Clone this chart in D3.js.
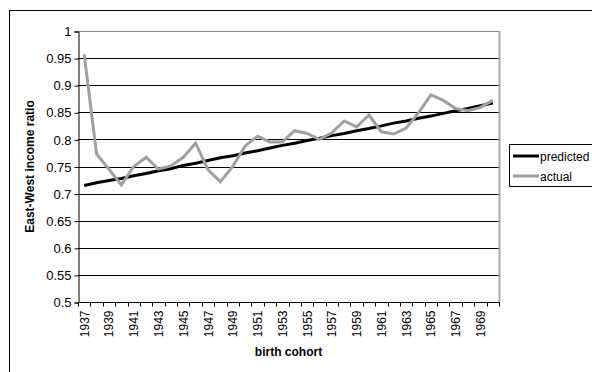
<!DOCTYPE html>
<html>
<head>
<meta charset="utf-8">
<script src="https://cdn.jsdelivr.net/npm/d3@7"></script>
<style>
  html, body { margin: 0; padding: 0; background: #fff; }
  svg { display: block; font-family: "Liberation Sans", Arial, sans-serif; }
</style>
</head>
<body>
<svg id="chart" width="592" height="372"></svg>
<script>
// Birth cohorts on the category axis
const years = d3.range(1937, 1971);
// Predicted East-West income ratio by cohort
const predicted = [0.715, 0.720, 0.724, 0.728, 0.733, 0.737, 0.742, 0.746, 0.752, 0.756,
                   0.761, 0.766, 0.770, 0.775, 0.779, 0.784, 0.789, 0.793, 0.798, 0.802,
                   0.807, 0.811, 0.816, 0.820, 0.825, 0.830, 0.834, 0.839, 0.843, 0.848,
                   0.853, 0.857, 0.862, 0.867];
// Actual East-West income ratio by cohort
const actual = [0.957, 0.773, 0.745, 0.716, 0.750, 0.767, 0.745, 0.751, 0.767, 0.793,
                0.744, 0.722, 0.750, 0.788, 0.806, 0.795, 0.795, 0.816, 0.811, 0.800,
                0.812, 0.834, 0.823, 0.845, 0.814, 0.810, 0.821, 0.849, 0.882, 0.872,
                0.857, 0.853, 0.859, 0.872];
const yTicks = [0.5, 0.55, 0.6, 0.65, 0.7, 0.75, 0.8, 0.85, 0.9, 0.95, 1];
const seriesNames = ["predicted", "actual"];
const seriesColors = ["#000000", "#a0a0a0"];

const svg = d3.select("#chart");
const plot = { left: 78, right: 499, top: 31, bottom: 302 };

// Outer chart frame
svg.append("rect")
  .attr("x", 9.5).attr("y", 10.5)
  .attr("width", 600).attr("height", 400)
  .attr("fill", "none").attr("stroke", "#000").attr("stroke-width", 1);

const x = d3.scaleBand().domain(years).range([plot.left, plot.right]).paddingInner(0).paddingOuter(0);
const y = d3.scaleLinear().domain([0.5, 1]).range([plot.bottom, plot.top]);
const cx = d => x(d) + x.bandwidth() / 2;

// Horizontal gridlines
svg.append("g")
  .selectAll("line")
  .data(yTicks.filter(t => t > 0.5))
  .join("line")
  .attr("x1", plot.left).attr("x2", plot.right)
  .attr("y1", d => Math.round(y(d)) + 0.5).attr("y2", d => Math.round(y(d)) + 0.5)
  .attr("stroke", d => d === 1 ? "#888" : "#000").attr("stroke-width", 1);

// Plot-area right border
svg.append("line")
  .attr("x1", plot.right + 0.5).attr("x2", plot.right + 0.5)
  .attr("y1", plot.top).attr("y2", plot.bottom)
  .attr("stroke", "#aaa").attr("stroke-width", 2);

// Y axis
const yAxis = d3.axisLeft(y).tickValues(yTicks).tickSize(4).tickPadding(3)
  .tickFormat(d => d3.format("")(+d.toFixed(2)));
const gy = svg.append("g").attr("transform", `translate(${plot.left + 0.5},0.5)`).call(yAxis);
gy.select(".domain").attr("stroke", "#000");
gy.selectAll(".tick line").attr("stroke", "#000");
gy.selectAll("text").attr("font-size", 13).attr("fill", "#000")
  .attr("font-family", "'Liberation Sans', Arial, sans-serif");

// X axis: ticks at category boundaries, labels on every other cohort
const gx = svg.append("g").attr("transform", `translate(0,${plot.bottom + 0.5})`);
gx.append("line").attr("x1", plot.left).attr("x2", plot.right + 1)
  .attr("stroke", "#000");
const bounds = years.map(d => x(d)).concat([plot.right]);
gx.selectAll("line.tk").data(bounds).join("line").attr("class", "tk")
  .attr("x1", d => Math.round(d) + 0.5).attr("x2", d => Math.round(d) + 0.5)
  .attr("y1", 0).attr("y2", 4).attr("stroke", "#000");
gx.selectAll("text").data(years.filter((d, i) => i % 2 === 0)).join("text")
  .attr("transform", d => `translate(${cx(d) + 4.5},${8}) rotate(-90)`)
  .attr("text-anchor", "end")
  .attr("font-size", 12).attr("fill", "#000")
  .text(d => d);

// Series lines (actual drawn last, on top)
const line = d3.line().x((d, i) => cx(years[i])).y(d => y(d));
[predicted, actual].forEach((vals, k) => {
  svg.append("path").datum(vals)
    .attr("fill", "none")
    .attr("stroke", seriesColors[k])
    .attr("stroke-width", 3)
    .attr("stroke-linejoin", "miter")
    .attr("d", line);
});

// Axis titles
svg.append("text")
  .attr("transform", `translate(34,${(plot.top + plot.bottom) / 2}) rotate(-90)`)
  .attr("text-anchor", "middle")
  .attr("font-size", 12).attr("font-weight", "bold")
  .text("East-West income ratio");
svg.append("text")
  .attr("x", (plot.left + plot.right) / 2).attr("y", 356)
  .attr("text-anchor", "middle")
  .attr("font-size", 12).attr("font-weight", "bold")
  .text("birth cohort");

// Legend
const lg = svg.append("g");
lg.append("rect").attr("x", 509.5).attr("y", 144.5).attr("width", 100).attr("height", 42)
  .attr("fill", "#fff").attr("stroke", "#000");
seriesNames.forEach((name, i) => {
  const ly = 156 + i * 20;
  lg.append("line").attr("x1", 513).attr("x2", 539).attr("y1", ly).attr("y2", ly)
    .attr("stroke", seriesColors[i]).attr("stroke-width", 3);
  lg.append("text").attr("x", 540).attr("y", ly + 4.5)
    .attr("font-size", 12).text(name);
});
</script>
</body>
</html>
